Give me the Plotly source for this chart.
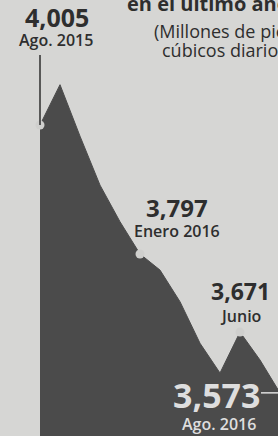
import plotly.graph_objects as go

months = ["Ago. 2015", "Sep. 2015", "Oct. 2015", "Nov. 2015", "Dic. 2015",
          "Ene. 2016", "Feb. 2016", "Mar. 2016", "Abr. 2016", "May. 2016",
          "Jun. 2016", "Jul. 2016", "Ago. 2016"]
values = [4005, 4070, 3987, 3908, 3849, 3797, 3771, 3720, 3653, 3605, 3671, 3626, 3573]

highlight_idx = [0, 5, 10]
highlight_vals = [values[i] for i in highlight_idx]
highlight_months = [months[i] for i in highlight_idx]

W, H = 278, 436
BG = "#d6d6d4"
AREA = "#4b4b4b"
DARK = "#2e2e2e"
LIGHT = "#dedede"
FONT = "Open Sans"


def px(x):
    return x / W


def py(y):
    return 1 - y / H


fig = go.Figure()
fig.add_trace(go.Scatter(
    x=months, y=values, mode="lines", fill="tozeroy",
    fillcolor=AREA, line=dict(color=AREA, width=1), hoverinfo="skip",
))
fig.add_trace(go.Scatter(
    x=highlight_months, y=highlight_vals, mode="markers",
    marker=dict(color="#cfcfcd", size=9), hoverinfo="skip",
))

shapes = [
    dict(type="line", xref="x", yref="paper", x0=0, x1=0,
         y0=py(55), y1=py(125), line=dict(color=DARK, width=1.5)),
    dict(type="line", xref="x", yref="y", x0=11.05, x1=12, y0=values[-1], y1=values[-1],
         line=dict(color=LIGHT, width=1.5)),
]


def ann(text, x, y, size, color=DARK, weight=700, xanchor="center"):
    return dict(text=text, x=px(x), y=py(y), xref="paper", yref="paper",
                xanchor=xanchor, yanchor="middle", showarrow=False,
                font=dict(family=FONT, size=size, color=color, weight=weight))


annotations = [
    ann("en el último año", 125, 3, 20, xanchor="left"),
    ann("(Millones de pies", 152, 31, 18, weight=400, xanchor="left"),
    ann("cúbicos diarios)", 160, 50, 18, weight=400, xanchor="left"),
    ann(f"{values[0]:,}", 57, 17, 25),
    ann("Ago. 2015", 56, 40, 16, weight=600),
    ann(f"{values[5]:,}", 177, 207, 24),
    ann("Enero 2016", 177, 231, 16, weight=600),
    ann(f"{values[10]:,}", 240, 291, 23),
    ann("Junio", 240, 316, 16, weight=600),
    ann(f"{values[12]:,}", 216, 395, 34, color=LIGHT),
    ann("Ago. 2016", 219, 424, 16, color=LIGHT, weight=600),
]

fig.update_layout(
    width=W, height=H, margin=dict(l=0, r=0, t=0, b=0),
    paper_bgcolor=BG, plot_bgcolor=BG, showlegend=False,
    shapes=shapes, annotations=annotations,
    xaxis=dict(type="category", range=[-2, 11.9], visible=False, fixedrange=True),
    yaxis=dict(range=[3503.4, 4206.6], visible=False, fixedrange=True),
)

fig.write_html(
    "out.html",
    config={"displayModeBar": False},
    post_script="document.body.style.margin='0';document.body.style.overflow='hidden';",
)
